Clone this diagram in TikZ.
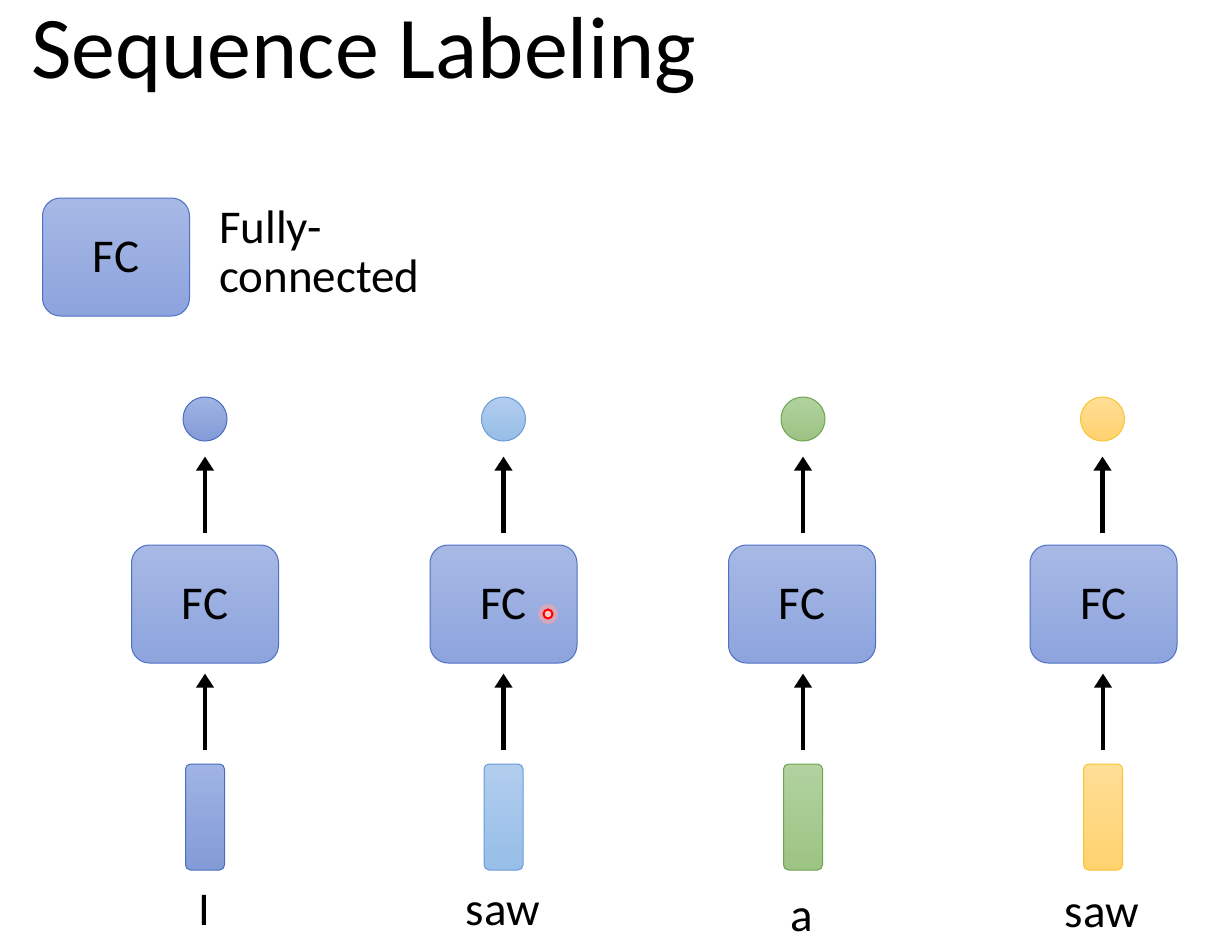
\documentclass[tikz,border=0pt]{standalone}
\usepackage{fontspec}
\setmainfont{Carlito}
\usetikzlibrary{arrows.meta}
\definecolor{fctop}{RGB}{168,185,229}
\definecolor{fcbot}{RGB}{140,163,221}
\definecolor{fcborder}{RGB}{78,112,196}
\definecolor{bAtop}{RGB}{160,180,228}
\definecolor{bAbot}{RGB}{130,155,215}
\definecolor{bAborder}{RGB}{75,108,192}
\definecolor{bBtop}{RGB}{178,205,238}
\definecolor{bBbot}{RGB}{150,190,232}
\definecolor{bBborder}{RGB}{105,155,215}
\definecolor{gtop}{RGB}{178,210,160}
\definecolor{gbot}{RGB}{155,195,130}
\definecolor{gborder}{RGB}{110,165,80}
\definecolor{ytop}{RGB}{255,222,150}
\definecolor{ybot}{RGB}{255,210,110}
\definecolor{yborder}{RGB}{250,195,50}
\tikzset{
  fcbox/.style={draw=fcborder, line width=1pt, rounded corners=18pt,
    minimum width=147pt, minimum height=118pt, inner sep=0pt,
    top color=fctop, bottom color=fcbot,
    font=\fontsize{47}{56}\selectfont},
  vecbox/.style={line width=1pt, rounded corners=5pt,
    minimum width=39pt, minimum height=106pt, inner sep=0pt},
  outdot/.style={circle, line width=1pt, minimum size=44pt, inner sep=0pt},
  word/.style={anchor=base, inner sep=0pt, font=\fontsize{47}{56}\selectfont},
  upconn/.style={line width=4.8pt, -{Triangle[width=17pt,length=14pt]}},
  styA/.style={draw=bAborder, top color=bAtop, bottom color=bAbot},
  styB/.style={draw=bBborder, top color=bBtop, bottom color=bBbot},
  styG/.style={draw=gborder, top color=gtop, bottom color=gbot},
  styY/.style={draw=yborder, top color=ytop, bottom color=ybot},
}
\begin{document}
\begin{tikzpicture}[x=1pt,y=-1pt]
\useasboundingbox (0,0) rectangle (1229,946);
\fill[white] (0,0) rectangle (1229,946);

% title
\node[anchor=base west, inner sep=0pt, font=\fontsize{88}{100}\selectfont] (title) at (31,78) {Sequence Labeling};

% legend
\node[fcbox] (legfc) at (116,257) {FC};
\node[anchor=base west, inner sep=0pt, font=\fontsize{47}{56}\selectfont] (leg1) at (219,243) {Fully-};
\node[anchor=base west, inner sep=0pt, font=\fontsize{47}{56}\selectfont] (leg2) at (219,292) {connected};

% column 1
\node[outdot, styA] (o1) at (205,419) {};
\node[fcbox] (f1) at (205,604) {FC};
\node[vecbox, styA] (v1) at (205,817) {};
\node[word] (w1) at (204,925) {I};

% column 2
\node[outdot, styB] (o2) at (503.5,419) {};
\node[fcbox] (f2) at (503.5,604) {FC};
\node[vecbox, styB] (v2) at (503.5,817) {};
\node[word] (w2) at (503,925) {saw};

% column 3
\node[outdot, styG] (o3) at (803,419) {};
\node[fcbox] (f3) at (802,604) {FC};
\node[vecbox, styG] (v3) at (803,817) {};
\node[word] (w3) at (802,931) {a};

% column 4
\node[outdot, styY] (o4) at (1102.5,419) {};
\node[fcbox] (f4) at (1103.5,604) {FC};
\node[vecbox, styY] (v4) at (1103,817) {};
\node[word] (w4) at (1102,927) {saw};

% connectors (vertical)
\foreach \i in {1,2,3,4}{
  \draw[upconn, shorten <=14pt, shorten >=10pt] (v\i.north) -- (v\i.north |- f\i.south);
  \draw[upconn, shorten <=12pt, shorten >=15pt] (o\i.south |- f\i.north) -- (o\i.south);
}

% laser pointer dot
\fill[red!35, opacity=0.6] (548,614) circle (10);
\draw[red, line width=2pt, fill=white!80!red] (548,614) circle (4.5);
\end{tikzpicture}
\end{document}
